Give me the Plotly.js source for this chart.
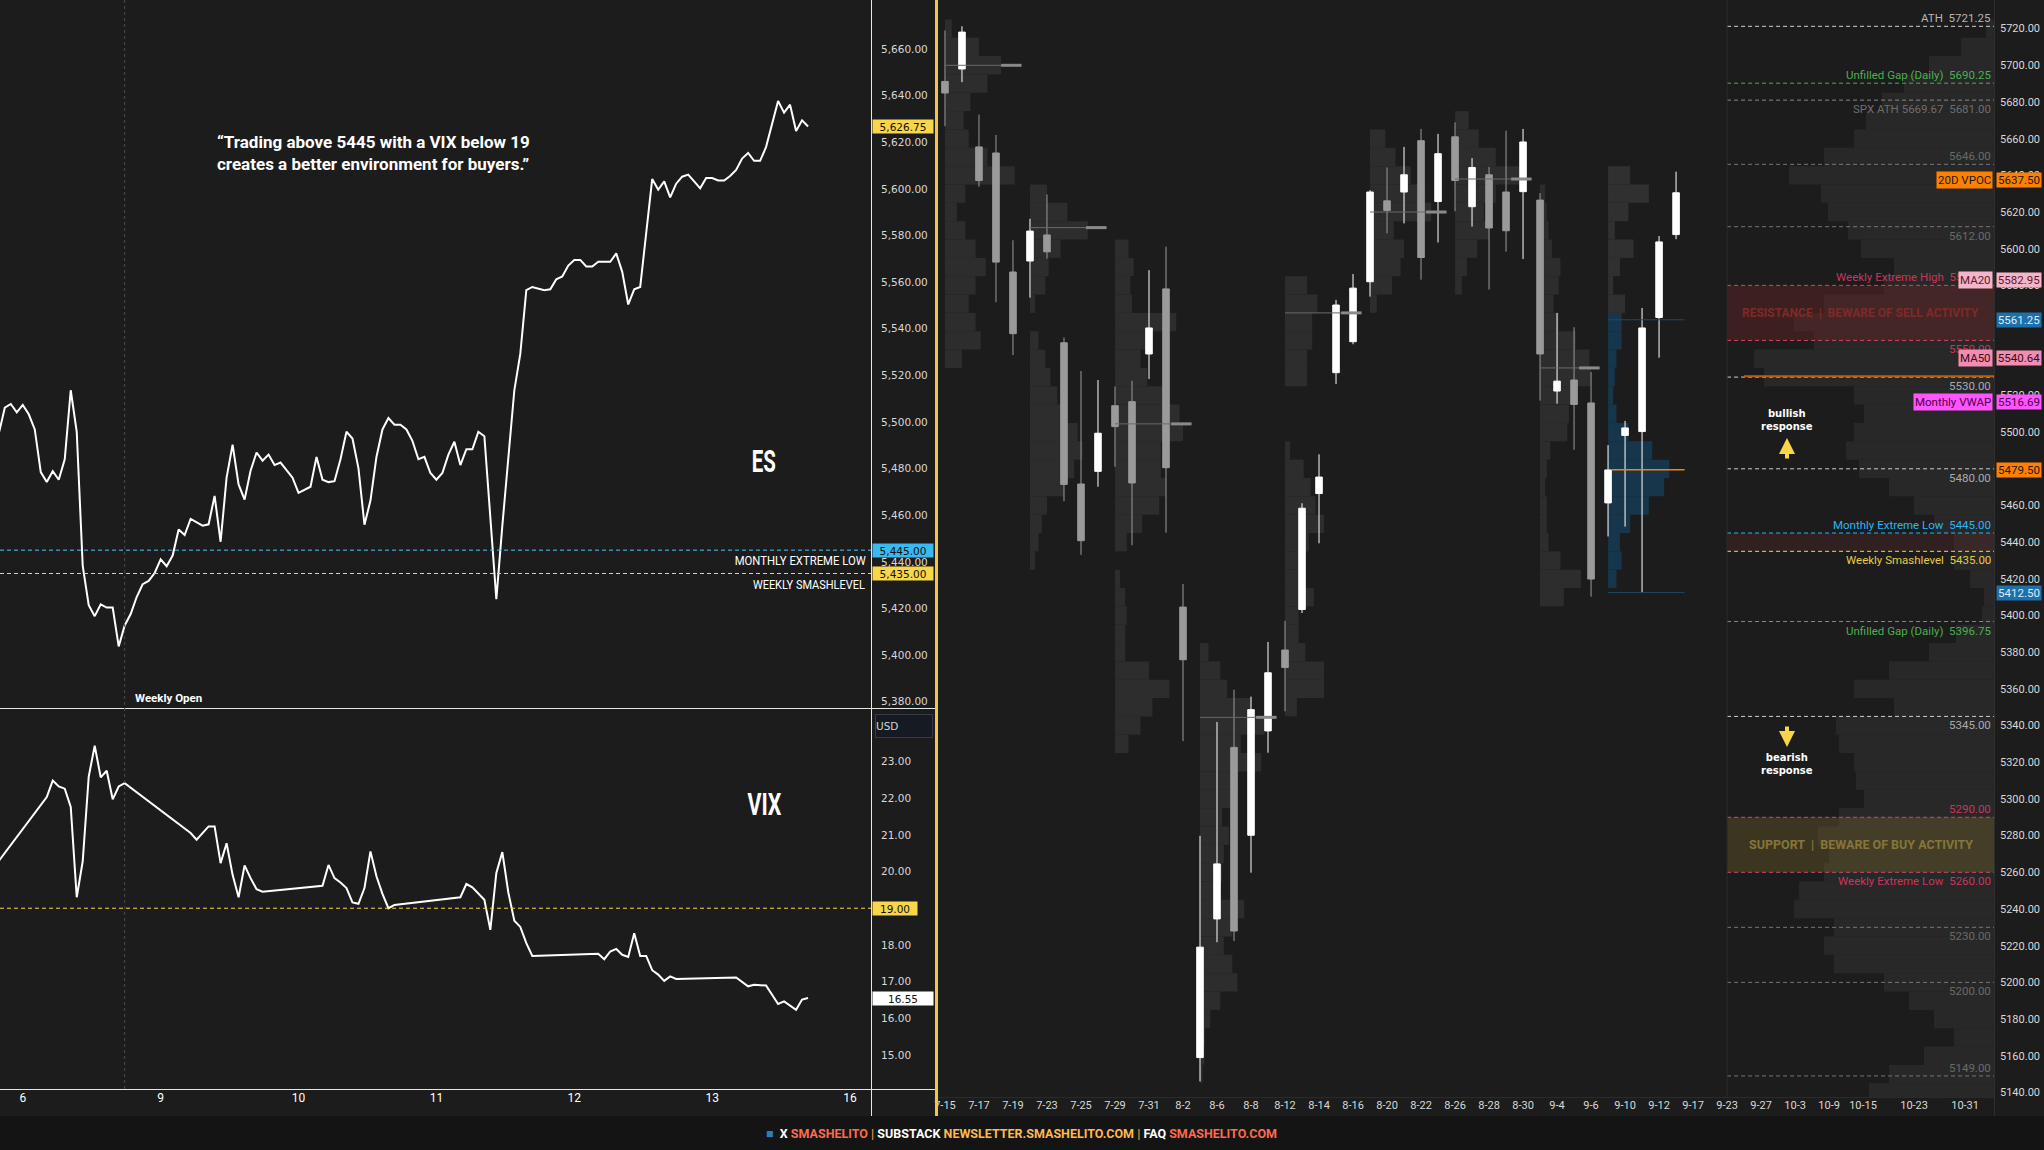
<!DOCTYPE html>
<html><head><meta charset="utf-8">
<script src="https://cdn.plot.ly/plotly-3.0.1.min.js"></script>
<style>html,body{margin:0;padding:0;background:#1c1c1c;overflow:hidden}#chart{width:2044px;height:1150px}</style>
</head><body><div id="chart"></div>
<script>
// ================= LEFT PANELS: hourly ES and VIX (Sep 6 - Sep 13) =================
const esHourly = [5495,5506.1,5507.7,5504.1,5507.3,5503.3,5496.8,5478.5,5474.2,5478.9,
5475.2,5484.0,5513.6,5495.8,5438.3,5421.4,5416.7,5421.8,5420.4,5420.4,
5403.7,5412.7,5417.6,5424.9,5430.4,5431.8,5435.2,5441.1,5438.1,5442.7,
5453.9,5451.5,5458.4,5457.0,5455.5,5456.1,5468.3,5448.6,5476.1,5490.3,
5473.2,5466.7,5479.1,5486.9,5483.4,5486.0,5481.5,5482.6,5479.1,5476.1,
5469.6,5470.8,5472.2,5485.0,5475.2,5474.2,5474.6,5484.0,5495.8,5492.9,
5480.1,5455.9,5466.3,5485.0,5496.8,5501.7,5498.8,5498.8,5496.8,5491.9,
5484.0,5485.0,5478.1,5475.2,5478.1,5486.0,5491.5,5481.5,5488.3,5488.3,
5495.8,5493.9,5460.4,5424.0,5455.5,5484.0,5513.6,5529.3,5556.5,5557.9,
5557.3,5556.5,5556.9,5561.2,5562.4,5567.1,5569.5,5569.5,5566.7,5566.7,
5568.7,5568.7,5568.7,5572.3,5564.4,5550.4,5556.9,5557.9,5580.5,5604.2,
5599.6,5603.2,5596.3,5602.2,5605.2,5606.1,5603.2,5600.2,5604.6,5604.6,
5603.6,5603.6,5605.5,5608.1,5613.0,5615.4,5612.0,5612.0,5618.0,5627.8,
5637.7,5632.7,5636.1,5624.8,5629.4,5626.75];
// VIX only prints during its own session: null hours are bridged by the line
const vixHourly = [20.29,null,null,null,null,null,null,null,
22.03,22.48,22.32,22.26,21.76,19.30,20.28,22.59,23.43,22.57,22.75,21.97,22.32,22.41,
null,null,null,null,null,null,null,null,null,null,
21.05,20.87,21.05,21.23,21.23,20.23,20.77,19.91,19.30,20.17,19.82,19.52,19.45,
null,null,null,null,null,null,null,null,null,
19.61,20.18,19.82,19.70,19.55,19.16,19.12,19.55,20.55,19.87,19.39,19.00,19.09,
null,null,null,null,null,null,null,null,null,null,
19.30,19.66,19.57,19.39,19.23,18.41,19.96,20.53,19.43,18.66,18.49,18.05,17.70,
null,null,null,null,null,null,null,null,null,null,
17.76,17.61,17.82,17.89,17.73,17.67,18.32,17.70,17.70,17.31,17.19,17.02,17.14,17.07,
null,null,null,null,null,null,null,null,null,
17.11,16.98,16.87,16.91,16.90,16.89,16.64,16.39,16.46,16.34,16.23,16.51,16.55];
const dayLabels = ["6","9","10","11","12","13","16"];
const dayStartHour = [4,27,50,73,96,119,142];
const weeklyOpenHour = 21;
const esKeyLevels = [5445, 5435];
const esKeyNames = ["MONTHLY EXTREME LOW","WEEKLY SMASHLEVEL"];
const vixKeyLevel = 19;

// ================= RIGHT PANEL: daily ES candles =================
const dates = ["7-15","7-16","7-17","7-18","7-19","7-22","7-23","7-24","7-25","7-26",
"7-29","7-30","7-31","8-1","8-2","8-5","8-6","8-7","8-8","8-9",
"8-12","8-13","8-14","8-15","8-16","8-19","8-20","8-21","8-22","8-23",
"8-26","8-27","8-28","8-29","8-30","9-3","9-4","9-5","9-6","9-9",
"9-10","9-11","9-12","9-13"];
const opens = [5691.2,5698.0,5655.5,5652.2,5587.3,5593.3,5607.5,5548.7,5471.7,5478.6,
5514.4,5516.6,5542.6,5578.1,5404.6,5159.0,5234.6,5328.1,5280.2,5337.1,
5381.2,5403.3,5466.5,5532.4,5549.3,5582.0,5626.1,5630.9,5658.9,5625.7,
5661.0,5622.9,5640.3,5630.9,5631.1,5626.5,5522.4,5528.4,5515.9,5461.4,
5498.2,5500.3,5562.5,5607.7];
const highs = [5719.0,5721.25,5673.1,5662.0,5604.6,5616.3,5629.6,5551.6,5533.3,5528.4,
5524.9,5528.0,5588.3,5601.1,5417.2,5279.9,5342.0,5359.6,5355.8,5385.6,
5397.1,5461.2,5487.9,5572.1,5586.2,5631.9,5644.3,5655.5,5665.3,5662.6,
5668.9,5649.4,5644.6,5664.3,5665.3,5630.3,5565.0,5557.2,5532.8,5492.9,
5506.1,5567.7,5606.9,5642.0];
const lows = [5666.8,5690.8,5633.8,5570.8,5542.0,5573.3,5594.6,5462.3,5433.1,5470.2,
5481.1,5438.3,5529.0,5445.2,5331.5,5146.0,5221.9,5222.5,5259.8,5325.2,
5347.8,5401.4,5439.4,5526.3,5547.9,5573.9,5608.4,5613.8,5583.1,5603.4,
5620.4,5612.1,5577.7,5598.4,5594.4,5517.2,5515.5,5490.4,5410.3,5443.1,
5448.5,5412.4,5540.6,5605.2];
const closes = [5684.9,5718.1,5637.2,5592.7,5553.7,5609.6,5598.3,5471.5,5440.8,5499.4,
5503.0,5472.3,5556.8,5480.6,5375.9,5219.2,5264.6,5228.0,5348.7,5368.8,
5371.7,5458.5,5475.5,5569.3,5578.5,5630.9,5620.9,5640.3,5595.2,5651.8,
5637.2,5644.3,5611.3,5609.8,5658.2,5542.6,5527.8,5515.1,5419.9,5479.4,
5502.3,5556.8,5603.7,5630.5];
const futureDates = ["9-17","9-19","9-23","9-25","9-27","10-1","10-3","10-7","10-9","10-11",
"10-15","10-17","10-21","10-23","10-25","10-29","10-31","11-4"];
const dateTicks = ["7-15","7-17","7-19","7-23","7-25","7-29","7-31","8-2","8-6","8-8","8-12","8-14",
"8-16","8-20","8-22","8-26","8-28","8-30","9-4","9-6","9-10","9-12","9-17","9-23","9-27",
"10-3","10-9","10-15","10-23","10-31"];

// weekly volume profiles: first day of week, bin prices, relative width (in days)
const weekStarts = ["7-15","7-22","7-29","8-5","8-12","8-19","8-26","9-3","9-9"];
const weekPOC = [5700,5611.5,5504.5,5344.5,5565,5620,5638,5535,5479.5];
const vpW1P = [5720,5710,5700,5690,5680,5670,5660,5650,5640,5630,5620,5610,5600,5590,5580,5570,5560,5550,5540];
const vpW1V = [0.4,2.0,3.3,2.5,1.5,1.1,1.4,2.5,4.1,1.2,0.7,1.2,1.8,2.4,1.8,1.4,1.8,2.1,1.0];
const vpW2P = [5630,5620,5610,5600,5590,5580,5570,5560,5550,5540,5530,5520,5510,5500,5490,5480,5470,5460,5450,5440,5430];
const vpW2V = [1.0,2.2,3.4,1.8,1.1,0.9,0.3,0,0.5,0.9,1.2,1.6,2.1,2.8,3.1,2.6,2.0,1.0,0.7,0.5,0.3];
const vpW3P = [5600,5590,5580,5570,5560,5550,5540,5530,5520,5510,5500,5490,5480,5470,5460,5450,5440,5430,5420,5410,5400,5390,5380,5370,5360,5350,5340,5330];
const vpW3V = [0.8,1.1,0.9,1.0,3.6,2.0,1.5,1.9,3.2,3.8,4.0,2.7,2.7,3.0,2.6,1.6,0.7,0,0.3,0.6,0.7,0.6,0.6,2.0,3.2,2.2,1.5,0.8];
const vpW4P = [5380,5370,5360,5350,5340,5330,5320,5310,5300,5290,5280,5270,5260,5250,5240,5230,5220,5210,5200,5190,5180,5170,5160,5150];
const vpW4V = [0.5,1.2,1.6,3.0,3.8,2.4,3.6,2.2,1.8,1.3,1.7,1.4,1.3,1.0,2.6,1.9,1.4,1.9,2.2,1.2,0.6,0.3,0.25,0.15];
const vpW5P = [5580,5570,5560,5550,5540,5530,5520,5510,5500,5490,5480,5470,5460,5450,5440,5430,5420,5410,5400,5390,5380,5370,5360,5350];
const vpW5V = [1.3,1.9,1.6,1.6,1.3,1.3,0,0,0,0.3,1.1,1.5,1.8,2.3,1.4,1.1,1.0,1.7,0.8,0.8,1.2,2.3,2.3,0.7];
const vpW6P = [5660,5650,5640,5630,5620,5610,5600,5590,5580,5570];
const vpW6V = [0.9,1.5,2.4,3.2,3.6,1.4,2.0,1.8,1.3,0.4];
const vpW7P = [5670,5660,5650,5640,5630,5620,5610,5600,5590,5580];
const vpW7V = [0.8,1.4,2.4,3.8,2.4,1.7,2.0,1.3,0.7,0.4];
const vpW8P = [5630,5620,5610,5600,5590,5580,5570,5560,5550,5540,5530,5520,5510,5500,5490,5480,5470,5460,5450,5440,5430,5420,5410];
const vpW8V = [0.3,0.4,0.5,0.7,1.2,1.1,0.8,1.1,2.1,2.9,3.0,2.1,1.7,1.6,0.6,0.4,0.3,0.4,0.4,0.5,1.2,2.4,1.4];
const vpW9P = [5640,5630,5620,5610,5600,5590,5580,5570,5560,5550,5540,5530,5520,5510,5500,5490,5480,5470,5460,5450,5440,5430,5420];
const vpW9V = [1.3,2.4,1.2,0.4,1.5,0.7,0.3,1.0,0.8,0.8,0.5,0.4,0.3,0.5,1.2,2.6,3.6,3.3,2.4,1.3,0.7,0.8,0.5];
const currentRangeHigh = 5561.25, currentRangeLow = 5412.50;

// composite (right-anchored) profile: relative volume per 10-pt bin
const compP = [5720,5710,5700,5690,5680,5670,5660,5650,5640,5630,5620,5610,5600,5590,5580,5570,5560,5550,5540,5530,
5520,5510,5500,5490,5480,5470,5460,5450,5440,5430,5420,5410,5400,5390,5380,5370,5360,5350,5340,5330,
5320,5310,5300,5290,5280,5270,5260,5250,5240,5230,5220,5210,5200,5190,5180,5170,5160,5150,5140];
const compV = [8,33,65,90,112,128,140,170,205,173,166,146,133,100,110,170,200,180,240,230,
140,130,140,148,135,105,80,60,40,40,24,10,12,38,65,105,140,100,158,155,
140,138,130,155,176,165,170,195,200,160,170,160,110,85,60,40,70,105,125];
const compPOC = 5530.5;

// key levels drawn in the projection area
const levelPrices = [5721.25,5690.25,5681.00,5646.00,5612.00,5580.00,5550.00,5530.00,5480.00,5445.00,5435.00,5396.75,5345.00,5290.00,5260.00,5230.00,5200.00,5149.00];
const levelNames = ["ATH","Unfilled Gap (Daily)","SPX ATH 5669.67","","","Weekly Extreme High","","","","Monthly Extreme Low","Weekly Smashlevel","Unfilled Gap (Daily)","","","Weekly Extreme Low","","",""];
const resistanceZone = [5550, 5580];
const supportZone = [5260, 5290];
const smashZone = [5435, 5445];

// price tags on the right scale
const tagPrices = [5637.50,5582.95,5561.25,5540.64,5516.69,5479.50,5412.50];
const tagNames = ["20D VPOC","MA20","","MA50","Monthly VWAP","",""];

// ================= styles =================
const BG = "#1c1c1c";
const BOLDF = "Roboto";
const levelLine = ["#cfcfcf","#4caf50","#8a8a8a","#777777","#777777","#d0466c","#d0466c","#cfcfcf","#cfcfcf","#29b6f6","#fdd835","#4caf50","#cfcfcf","#d0466c","#d0466c","#777777","#777777","#777777"];
const levelText = ["#b5b5b5","#4caf50","#6e6e6e","#6a6a6a","#6a6a6a","#c8365e","#c8365e","#ababab","#ababab","#29b6f6","#e6cc45","#4caf50","#ababab","#c8365e","#c8365e","#6a6a6a","#6a6a6a","#6a6a6a"];
const levelSide = ["a","a","b","a","b","a","b","b","b","a","b","b","b","a","b","b","b","a"];
const tagBg = ["#ff8000","#f5b5c8","#1f6fa8","#f08db0","#ff55ff","#ff8000","#1f6fa8"];
const tagFg = ["#1a1a1a","#5a1830","#d8ecff","#3a0a1a","#4a004a","#1a1a1a","#d8ecff"];

const W = 2044, H = 1150;
const px = x => x / W, py = y => 1 - y / H;

// ---- derived indexes ----
const timeline = dates.concat(futureDates);
const dayIdx = dates.map(d => timeline.indexOf(d));
const projStart = timeline.indexOf("9-23");
const xRightEdge = 61.7;
const wkIdx = weekStarts.map(d => timeline.indexOf(d));
const wkEnd = wkIdx.map((s, i) => i < wkIdx.length - 1 ? wkIdx[i + 1] - 0.5 : dayIdx[dayIdx.length - 1] + 0.5);

const traces = [];
traces.push({type:"scatter", mode:"lines", x: esHourly.map((v,i)=>i), y: esHourly, xaxis:"x", yaxis:"y",
  line:{color:"#ffffff", width:2}, hoverinfo:"skip"});
traces.push({type:"scatter", mode:"lines", x: vixHourly.map((v,i)=>i), y: vixHourly, xaxis:"x", yaxis:"y2",
  connectgaps:true, line:{color:"#ffffff", width:2}, hoverinfo:"skip"});
traces.push({type:"bar", orientation:"h", xaxis:"x2", yaxis:"y3", y: compP, x: compV.map(v => -v/17), base: xRightEdge,
  width: 10, marker:{color:"#282828", line:{width:0}}, hoverinfo:"skip"});
const wkP = [vpW1P,vpW2P,vpW3P,vpW4P,vpW5P,vpW6P,vpW7P,vpW8P,vpW9P];
const wkV = [vpW1V,vpW2V,vpW3V,vpW4V,vpW5V,vpW6V,vpW7V,vpW8V,vpW9V];
wkP.forEach((p, k) => {
  const isCurrent = k === wkP.length - 1;
  traces.push({type:"bar", orientation:"h", xaxis:"x2", yaxis:"y3", y: p, x: wkV[k], base: wkIdx[k], width: 10,
    marker:{color: isCurrent ? p.map(v => v < currentRangeHigh ? "#17364b" : "#303030") : "#2d2d2d", line:{width:0}},
    hoverinfo:"skip"});
});
traces.push({type:"candlestick", xaxis:"x2", yaxis:"y3", x: dayIdx, open: opens, high: highs, low: lows, close: closes,
  increasing:{line:{color:"#ffffff", width:1}, fillcolor:"#ffffff"},
  decreasing:{line:{color:"#9a9a9a", width:1}, fillcolor:"#9a9a9a"},
  whiskerwidth:0, hoverinfo:"skip"});

// ---------------- shapes ----------------
const shapes = [];
shapes.push({type:"rect", xref:"paper", yref:"paper", x0:0, x1:1, y0:0, y1:py(1116), fillcolor:"#141414", line:{width:0}, layer:"below"});
const zone = (z, c) => ({type:"rect", xref:"x2", yref:"y3", x0: projStart, x1: xRightEdge, y0: z[0], y1: z[1], fillcolor: c, line:{width:0}, layer:"above"});
shapes.push(zone(resistanceZone, "rgba(105,35,35,0.45)"));
shapes.push(zone(supportZone, "rgba(110,95,40,0.40)"));
shapes.push(zone(smashZone, "rgba(90,40,40,0.35)"));
levelPrices.forEach((p, i) => shapes.push({type:"line", xref:"x2", yref:"y3", x0: projStart, x1: xRightEdge, y0:p, y1:p,
  line:{color: levelLine[i], width:1, dash:"4px,3px"}, layer:"above"}));
shapes.push({type:"line", xref:"x2", yref:"y3", x0: projStart + 1, x1: xRightEdge, y0: compPOC, y1: compPOC, line:{color:"#b8600f", width:2}});
weekPOC.forEach((p, k) => {
  const last = k === weekPOC.length - 1;
  if (last) {
    shapes.push({type:"line", xref:"x2", yref:"y3", x0: wkIdx[k] + 0.2, x1: wkEnd[k], y0:p, y1:p, line:{color:"#ff8000", width:1.5}});
    shapes.push({type:"line", xref:"x2", yref:"y3", x0: wkIdx[k], x1: wkEnd[k], y0: currentRangeHigh, y1: currentRangeHigh, line:{color:"#1d4a66", width:1}});
    shapes.push({type:"line", xref:"x2", yref:"y3", x0: wkIdx[k], x1: wkEnd[k], y0: currentRangeLow, y1: currentRangeLow, line:{color:"#1d4a66", width:1}});
  } else {
    shapes.push({type:"line", xref:"x2", yref:"y3", x0: wkIdx[k], x1: wkEnd[k], y0:p, y1:p, line:{color:"#6a6a6a", width:1}});
    shapes.push({type:"line", xref:"x2", yref:"y3", x0: wkEnd[k] - 1.2, x1: wkEnd[k], y0:p, y1:p, line:{color:"#8a8a8a", width:3}});
  }
});
shapes.push({type:"line", xref:"x2", yref:"paper", x0: projStart, x1: projStart, y0: py(1097), y1: 1, line:{color:"#2c2c2c", width:1}});
shapes.push({type:"line", xref:"paper", yref:"paper", x0: px(1994.5), x1: px(1994.5), y0: py(1116), y1: 1, line:{color:"#2e2e2e", width:1}});
shapes.push({type:"line", xref:"paper", yref:"paper", x0: px(938), x1: px(1994), y0: py(1097.5), y1: py(1097.5), line:{color:"#2a2a2a", width:1}});
shapes.push({type:"line", xref:"paper", yref:"paper", x0: px(871.5), x1: px(871.5), y0: py(1116), y1: 1, line:{color:"#e6e6e6", width:1}});
shapes.push({type:"line", xref:"paper", yref:"paper", x0: 0, x1: px(936), y0: py(708.5), y1: py(708.5), line:{color:"#e6e6e6", width:1}});
shapes.push({type:"line", xref:"paper", yref:"paper", x0: 0, x1: px(936), y0: py(1089.5), y1: py(1089.5), line:{color:"#e6e6e6", width:1}});
shapes.push({type:"line", xref:"paper", yref:"paper", x0: px(936.5), x1: px(936.5), y0: py(1116), y1: 1, line:{color:"#f4c542", width:3}});
shapes.push({type:"line", xref:"x", yref:"paper", x0: weeklyOpenHour, x1: weeklyOpenHour, y0: py(1089), y1: 1, line:{color:"#4a4a4a", width:1, dash:"3px,3px"}});
shapes.push({type:"line", xref:"paper", yref:"y", x0: 0, x1: px(871), y0: esKeyLevels[0], y1: esKeyLevels[0], line:{color:"#4fc3f7", width:1, dash:"4px,3px"}});
shapes.push({type:"line", xref:"paper", yref:"y", x0: 0, x1: px(871), y0: esKeyLevels[1], y1: esKeyLevels[1], line:{color:"#fdd835", width:1, dash:"4px,3px"}});
shapes.push({type:"line", xref:"paper", yref:"y2", x0: 0, x1: px(871), y0: vixKeyLevel, y1: vixKeyLevel, line:{color:"#fdd835", width:1, dash:"4px,3px"}});

// ---------------- annotations ----------------
const ann = [];
const condense = [];   // [annotation index, target text width in px] for narrow display lettering
const addC = (a, w) => { condense.push([ann.length, w]); ann.push(a); };
ann.push({xref:"paper", yref:"paper", x: px(215), y: py(153), xanchor:"left", yanchor:"middle", align:"left", showarrow:false,
  text:"<b>“Trading above 5445 with a VIX below 19<br>creates a better environment for buyers.”</b>",
  font:{family:"Roboto", size:17, color:"#ffffff"}});
addC({xref:"paper", yref:"paper", x: px(764), y: py(461), xanchor:"center", yanchor:"middle", showarrow:false, text:"<b>ES</b>", font:{family:BOLDF, size:32, color:"#ffffff"}}, 24);
addC({xref:"paper", yref:"paper", x: px(764.5), y: py(803.5), xanchor:"center", yanchor:"middle", showarrow:false, text:"<b>VIX</b>", font:{family:BOLDF, size:32, color:"#ffffff"}}, 34);
addC({xref:"paper", yref:"paper", x: px(799.5), y: py(560), xanchor:"center", yanchor:"middle", showarrow:false, text: esKeyNames[0], font:{family:BOLDF, size:13.5, color:"#ffffff"}}, 131);
addC({xref:"paper", yref:"paper", x: px(809), y: py(583.6), xanchor:"center", yanchor:"middle", showarrow:false, text: esKeyNames[1], font:{family:BOLDF, size:13.5, color:"#ffffff"}}, 112);
ann.push({xref:"x", yref:"paper", x: weeklyOpenHour, y: py(698), xanchor:"left", yanchor:"middle", xshift:8, showarrow:false, text:"<b>Weekly Open</b>", font:{family:"Roboto", size:11.5, color:"#ffffff"}});
const lTag = (yref, y, txt, bg, w) => ({xref:"paper", yref, x: px(872), y, xanchor:"left", yanchor:"middle", showarrow:false,
  text: txt, bgcolor: bg, width: w, height: 13, align:"center", borderpad:0, font:{family:"DejaVu Sans", size:10.5, color:"#111111"}});
const fmtC = v => v.toLocaleString("en-US",{minimumFractionDigits:2, maximumFractionDigits:2});
ann.push(lTag("y", esHourly[esHourly.length-1], fmtC(esHourly[esHourly.length-1]), "#f7d64a", 60));
ann.push(lTag("y", esKeyLevels[0], fmtC(esKeyLevels[0]), "#3ab8f0", 60));
ann.push(lTag("y", esKeyLevels[1], fmtC(esKeyLevels[1]), "#f7d64a", 60));
ann.push(lTag("y2", vixKeyLevel, vixKeyLevel.toFixed(2), "#f7d64a", 44));
ann.push(lTag("y2", vixHourly[vixHourly.length-1], vixHourly[vixHourly.length-1].toFixed(2), "#ffffff", 60));
ann.push({xref:"paper", yref:"paper", x: px(875), y: py(726), xanchor:"left", yanchor:"middle", showarrow:false, text:"USD",
  bgcolor:"#161a22", bordercolor:"#353a46", borderwidth:1, width:56, height:22, align:"left", borderpad:0,
  font:{family:"DejaVu Sans", size:10.5, color:"#d1d4dc"}});

levelPrices.forEach((p, i) => {
  const txt = (levelNames[i] ? levelNames[i] + "  " : "") + p.toFixed(2);
  ann.push({xref:"paper", yref:"y3", x: px(1992), y: p, xanchor:"right", yanchor: levelSide[i] === "a" ? "bottom" : "top",
    yshift: levelSide[i] === "a" ? 0 : -1, showarrow:false, text: txt, borderpad:0, font:{family:"Roboto", size:11.5, color: levelText[i]}});
});
ann.push({xref:"x2", yref:"y3", x: (projStart + xRightEdge)/2, y: (resistanceZone[0]+resistanceZone[1])/2, xanchor:"center", yanchor:"middle", showarrow:false,
  text:"<b>RESISTANCE  |  BEWARE OF SELL ACTIVITY</b>", font:{family:BOLDF, size:12, color:"#7d2a2a"}});
ann.push({xref:"x2", yref:"y3", x: (projStart + xRightEdge)/2, y: (supportZone[0]+supportZone[1])/2, xanchor:"center", yanchor:"middle", showarrow:false,
  text:"<b>SUPPORT  |  BEWARE OF BUY ACTIVITY</b>", font:{family:BOLDF, size:12.5, color:"#877539"}});
ann.push({xref:"paper", yref:"paper", x: px(1787), y: py(420), xanchor:"center", yanchor:"middle", showarrow:false, text:"<b>bullish<br>response</b>",
  font:{family:"DejaVu Sans", size:10, color:"#ffffff"}});
ann.push({xref:"paper", yref:"paper", x: px(1787), y: py(438), ax:0, ay:22, showarrow:true, text:"", arrowhead:2, arrowsize:0.8,
  arrowwidth:4, arrowcolor:"#f9d648"});
ann.push({xref:"paper", yref:"paper", x: px(1787), y: py(764), xanchor:"center", yanchor:"middle", showarrow:false, text:"<b>bearish<br>response</b>",
  font:{family:"DejaVu Sans", size:10, color:"#ffffff"}});
ann.push({xref:"paper", yref:"paper", x: px(1787), y: py(747), ax:0, ay:-22, showarrow:true, text:"", arrowhead:2, arrowsize:0.8,
  arrowwidth:4, arrowcolor:"#f9d648"});
tagPrices.forEach((p, i) => {
  ann.push({xref:"paper", yref:"y3", x: px(1996), y: p, xanchor:"left", yanchor:"middle", showarrow:false, text: p.toFixed(2),
    bgcolor: tagBg[i], width:44, height:14, borderpad:0, font:{family:"Roboto", size:11.5, color: tagFg[i]}});
  if (tagNames[i]) ann.push({xref:"paper", yref:"y3", x: px(1993), y: p, xanchor:"right", yanchor:"middle", showarrow:false,
    text: tagNames[i], bgcolor: tagBg[i], height:14, borderpad:1, font:{family:"Roboto", size:11.5, color: tagFg[i]}});
});
ann.push({xref:"paper", yref:"paper", x: px(1021), y: py(1133), xanchor:"center", yanchor:"middle", showarrow:false,
  text:'<b><span style="color:#2a7fb8">■</span>  X <span style="color:#ff6a4d">SMASHELITO</span> <span style="color:#f0963a">|</span> SUBSTACK <span style="color:#ffb84d">NEWSLETTER.SMASHELITO.COM</span> <span style="color:#f0963a">|</span> FAQ <span style="color:#ff6a4d">SMASHELITO.COM</span></b>',
  font:{family:BOLDF, size:12.5, color:"#ffffff"}});

const layout = {
  width: W, height: H, margin:{l:0, r:0, t:0, b:0}, paper_bgcolor: BG, plot_bgcolor: BG,
  showlegend:false, hovermode:false, barmode:"overlay", boxgap:0.45,
  xaxis:{domain:[0, px(871)], range:[0.2, 145.5], anchor:"y2", tickvals: dayStartHour, ticktext: dayLabels,
    showgrid:false, zeroline:false, showline:false, ticks:"", tickfont:{family:"Roboto", size:12, color:"#ffffff"}, fixedrange:true},
  yaxis:{domain:[py(708), 1], range:[5377.3, 5681], side:"right", anchor:"x", tick0:5380, dtick:20, tickformat:",.2f",
    showgrid:false, zeroline:false, showline:false, ticks:"", ticklabelstandoff:9, tickfont:{family:"DejaVu Sans", size:10.5, color:"#d8d8d8"}},
  yaxis2:{domain:[py(1089), py(708)], range:[14.07, 24.46], side:"right", anchor:"x", tickvals:[15,16,17,18,19,20,21,22,23], tickformat:".2f",
    showgrid:false, zeroline:false, showline:false, ticks:"", ticklabelstandoff:9, tickfont:{family:"DejaVu Sans", size:10.5, color:"#d8d8d8"}},
  xaxis2:{domain:[px(938), px(1994)], range:[-0.41, xRightEdge], anchor:"y3", tickvals: dateTicks.map(d => timeline.indexOf(d)), ticktext: dateTicks,
    showgrid:false, zeroline:false, showline:false, ticks:"", rangeslider:{visible:false}, tickfont:{family:"Roboto", size:11, color:"#d8d8d8"}},
  yaxis3:{domain:[py(1097), 1], range:[5137.5, 5735.6], side:"right", anchor:"x2", tick0:5140, dtick:20, tickformat:".2f",
    showgrid:false, zeroline:false, showline:false, ticks:"", ticklabelstandoff:5, tickfont:{family:"Roboto", size:11, color:"#d8d8d8"}},
  shapes, annotations: ann
};
Plotly.newPlot("chart", traces, layout, {displayModeBar:false, staticPlot:true}).then(gd => {
  // squeeze the display lettering horizontally, like the condensed face of the original
  condense.forEach(([i, w]) => {
    const t = gd.querySelector('.annotation[data-index="' + i + '"] text.annotation-text');
    if (t) { t.setAttribute("textLength", w); t.setAttribute("lengthAdjust", "spacingAndGlyphs"); }
  });
});
</script></body></html>
